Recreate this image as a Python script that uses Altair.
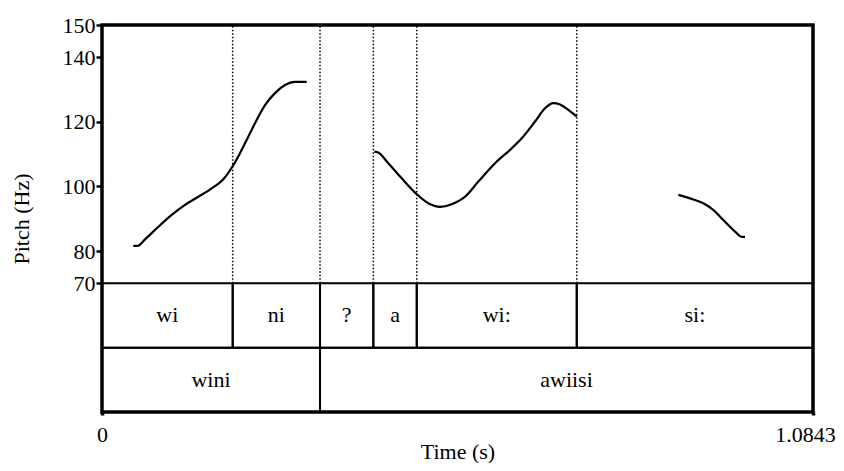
import altair as alt
import pandas as pd

# ---------------- data ----------------
DURATION = 1.0843
PITCH_DOMAIN = [70, 150]
PITCH_TICKS = [70, 80, 100, 120, 140, 150]
TIME_TICKS = [0, DURATION]

seg1_time = [0.0477, 0.0544, 0.0656, 0.0859, 0.1063, 0.1266, 0.1469, 0.1673, 0.1850,
             0.1987, 0.2105, 0.2231, 0.2359, 0.2486, 0.2638, 0.2791, 0.2943, 0.3122]
seg1_hz = [81.6, 81.6, 83.6, 87.5, 91.2, 94.3, 96.8, 99.4, 102.2,
           106.1, 110.3, 115.4, 120.6, 125.2, 128.9, 131.4, 132.4, 132.4]

seg2_time = [0.4153, 0.4205, 0.4366, 0.4571, 0.4800, 0.4976, 0.5155, 0.5333, 0.5536, 0.5739,
             0.5994, 0.6248, 0.6401, 0.6604, 0.6756, 0.6883, 0.6985, 0.7112, 0.7240]
seg2_hz = [110.8, 110.6, 107.2, 102.5, 97.6, 94.8, 93.7, 94.5, 96.8, 101.5,
           107.2, 111.8, 114.9, 120.1, 124.2, 125.8, 125.4, 123.7, 121.6]

seg3_time = [0.8789, 0.8967, 0.9170, 0.9323, 0.9475, 0.9654, 0.9756, 0.9806]
seg3_hz = [97.4, 96.3, 94.8, 92.7, 89.6, 86.0, 84.4, 84.4]

tier1_labels = ["wi", "ni", "?", "a", "wi:", "si:"]
tier1_bounds = [0, 0.1993, 0.3325, 0.4138, 0.4800, 0.7240, DURATION]
tier2_labels = ["wini", "awiisi"]
tier2_bounds = [0, 0.3325, DURATION]

# ---------------- tables ----------------
pitch_rows = []
for seg, (ts, hs) in enumerate([(seg1_time, seg1_hz), (seg2_time, seg2_hz), (seg3_time, seg3_hz)]):
    for t, h in zip(ts, hs):
        pitch_rows.append({"t": t, "hz": h, "seg": seg})
pitch_df = pd.DataFrame(pitch_rows)

tier_rows = []
for tier, (labels, bounds) in enumerate([(tier1_labels, tier1_bounds), (tier2_labels, tier2_bounds)]):
    for i, lab in enumerate(labels):
        tier_rows.append({"start": bounds[i], "end": bounds[i + 1], "label": lab, "tier": tier})
tier_df = pd.DataFrame(tier_rows)

dots_df = pd.DataFrame({"t": tier1_bounds[1:-1]})

# ---------------- layout ----------------
W, H = 711, 387
PITCH_PX = 258.3
FONT = "Liberation Serif"
FS = 22

x_scale = alt.Scale(domain=[0, DURATION], nice=False, zero=False)
x_axis = alt.Axis(values=TIME_TICKS, title="Time (s)", labelExpr="toString(datum.value)",
                  labelFlush=False, tickSize=3, tickWidth=3.5, labelPadding=9,
                  labelOffset={"condition": {"test": "datum.value > 0", "value": -8}, "value": 0},
                  titleY=29, titleBaseline="top")
y_scale = alt.Scale(domain=PITCH_DOMAIN, range=[PITCH_PX, 0], nice=False, zero=False)
y_axis = alt.Axis(values=PITCH_TICKS, title="Pitch (Hz)", tickSize=6, tickWidth=2.5,
                  labelPadding=1, titleX=-69, titleY=H / 2)
tier_scale = alt.Scale(domain=[0, 2], range=[PITCH_PX, H], nice=False, zero=False)

line = alt.Chart(pitch_df).mark_line(interpolate="monotone", color="black", strokeWidth=2.2).encode(
    x=alt.X("t:Q", scale=x_scale, axis=x_axis),
    y=alt.Y("hz:Q", scale=y_scale, axis=y_axis),
    detail="seg:N",
)

dots = alt.Chart(dots_df).mark_rule(color="black", strokeWidth=1.5, strokeDash=[1.5, 2]).encode(
    x=alt.X("t:Q", scale=x_scale, axis=x_axis),
    y=alt.Y(datum=PITCH_DOMAIN[0], scale=y_scale, axis=y_axis),
    y2=alt.datum(PITCH_DOMAIN[1]),
)

pitch_layer = alt.layer(dots, line)

cells = alt.Chart(tier_df).transform_calculate(
    bottom="datum.tier + 1"
).mark_rect(fillOpacity=0, stroke="black", strokeWidth=2).encode(
    x=alt.X("start:Q", scale=x_scale, axis=x_axis),
    x2="end:Q",
    y=alt.Y("tier:Q", scale=tier_scale, axis=None),
    y2="bottom:Q",
)

texts = alt.Chart(tier_df).transform_calculate(
    mid="(datum.start + datum.end) / 2",
    center="datum.tier + 0.5",
).mark_text(font=FONT, fontSize=FS, color="black", baseline="middle", align="center").encode(
    x=alt.X("mid:Q", scale=x_scale, axis=x_axis),
    y=alt.Y("center:Q", scale=tier_scale, axis=None),
    text="label:N",
)

tier_layer = alt.layer(cells, texts)

chart = alt.layer(pitch_layer, tier_layer).resolve_scale(y="independent").properties(
    width=W, height=H,
    autosize=alt.AutoSizeParams(type="none"),
    padding={"left": 94, "top": 17, "right": 23, "bottom": 51},
    background="white",
).configure_view(
    stroke="black", strokeWidth=3.5
).configure_axis(
    labelFont=FONT, labelFontSize=FS, titleFont=FONT, titleFontSize=FS,
    titleFontWeight="normal", labelColor="black", titleColor="black",
    tickColor="black", domain=False, grid=False,
)

chart.save("out.html", embed_options={"renderer": "svg", "actions": False})
